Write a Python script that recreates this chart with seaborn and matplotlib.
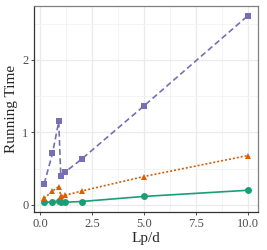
import numpy as np
import pandas as pd
import matplotlib
matplotlib.use("Agg")
import matplotlib.pyplot as plt
import seaborn as sns
from matplotlib.ticker import MultipleLocator

# values
lp_d = [0.2, 0.6, 0.9, 1.0, 1.2, 2.0, 5.0, 10.0]
time_a = [0.033, 0.04, 0.05, 0.035, 0.035, 0.045, 0.115, 0.20]
time_b = [0.09, 0.19, 0.25, 0.125, 0.13, 0.19, 0.39, 0.68]
time_c = [0.29, 0.71, 1.15, 0.40, 0.45, 0.63, 1.365, 2.61]
methods = ["A", "B", "C"]

df = pd.DataFrame({
    "Lp/d": lp_d * 3,
    "Running Time": time_a + time_b + time_c,
    "method": np.repeat(methods, len(lp_d)),
})

sns.set_style("whitegrid")
plt.rcParams["font.family"] = ["Liberation Serif", "DejaVu Serif"]

fig = plt.figure(figsize=(2.67, 2.5), dpi=100)
ax = fig.add_axes([34 / 267, 38 / 250, 224 / 267, 206 / 250])

palette = {"A": "#1B9E77", "B": "#D95F02", "C": "#7570B3"}
sns.lineplot(data=df, x="Lp/d", y="Running Time", hue="method", style="method",
             palette=palette, markers={"A": "o", "B": "^", "C": "s"},
             dashes={"A": "", "B": (1.2, 1.2), "C": (3.5, 2.0)},
             markersize=5, markeredgewidth=0, linewidth=1.2,
             legend=False, ax=ax, sort=False)

ax.set_xlim(-0.29, 10.49)
ax.set_ylim(-0.1, 2.745)
ax.xaxis.set_major_locator(MultipleLocator(2.5))
ax.xaxis.set_minor_locator(MultipleLocator(1.25))
ax.yaxis.set_major_locator(MultipleLocator(1))
ax.yaxis.set_minor_locator(MultipleLocator(0.5))
ax.set_xticklabels([f"{v:.1f}" for v in ax.get_xticks()])
ax.grid(which="major", color="#EBEBEB", linewidth=0.9)
ax.grid(which="minor", color="#F2F2F2", linewidth=0.6)
ax.set_axisbelow(True)
for name, s in ax.spines.items():
    s.set_color("#333333" if name in ("left", "bottom") else "#808080")
    s.set_linewidth(0.9)
ax.tick_params(which="major", length=2.5, width=0.6, color="#333333",
               labelsize=9, labelcolor="#4D4D4D", pad=1.5, bottom=True, left=True)
ax.tick_params(which="minor", length=0)
ax.set_xlabel("Lp/d", fontsize=11, labelpad=2)
ax.set_ylabel("Running Time", fontsize=11, labelpad=3)

fig.savefig("out.png", dpi=100)
